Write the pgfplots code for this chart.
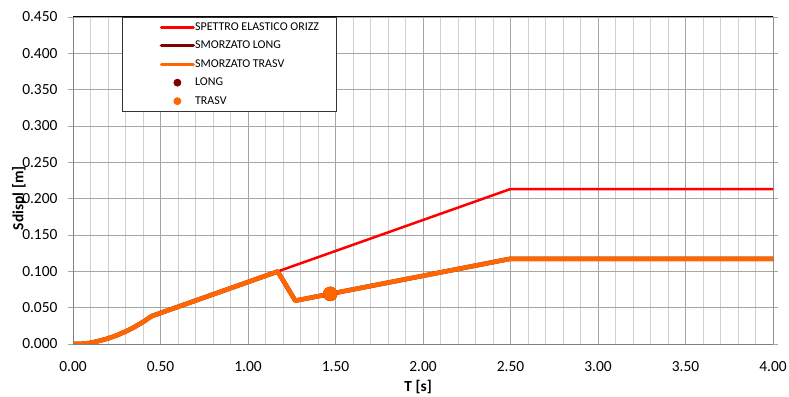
\documentclass[border=0pt]{standalone}
\usepackage{pgfplots}
\pgfplotsset{compat=1.18}
\usepackage{fontspec}
\setmainfont{Carlito}
\definecolor{elred}{HTML}{FF0000}
\definecolor{dkred}{HTML}{7F0000}
\definecolor{orng}{HTML}{FF6600}
\definecolor{gmaj}{HTML}{A6A6A6}
\definecolor{gmin}{HTML}{D0D0D0}
\begin{document}
\begin{tikzpicture}
\begin{axis}[
  scale only axis, width=700bp, height=327bp,
  xmin=0, xmax=4, ymin=0, ymax=0.45,
  xtick={0,0.5,1,1.5,2,2.5,3,3.5,4},
  minor x tick num=4,
  ytick={0,0.05,0.1,0.15,0.2,0.25,0.3,0.35,0.4,0.45},
  grid=both,
  major grid style={draw=gmaj, line width=0.8bp},
  minor grid style={draw=gmin, line width=0.8bp},
  axis line style={draw=none},
  xtick style={draw=none},
  minor x tick style={draw=none},
  ytick style={draw=gmaj, line width=0.8bp},
  ytick align=outside, major tick length=5bp,
  /pgf/number format/assume math mode=true,
  tick label style={font=\fontsize{15.5}{17}\selectfont},
  xticklabel style={yshift=-14bp, /pgf/number format/.cd, fixed, fixed zerofill, precision=2},
  yticklabel style={xshift=-7bp, /pgf/number format/.cd, fixed, fixed zerofill, precision=3},
  scaled ticks=false,
  xlabel={\textbf{T [s]}},
  ylabel={\textbf{Sdispl [m]}},
  every axis x label/.style={at={(rel axis cs:0.493,0)}, yshift=-43bp, anchor=center,
    font=\fontsize{15.5}{17}\selectfont},
  every axis y label/.style={at={(rel axis cs:0,0.446)}, xshift=-54bp, rotate=90, anchor=center,
    font=\fontsize{15.5}{17}\selectfont},
  legend style={at={(rel axis cs:0.07,1)}, anchor=north west, draw=black!80, line width=0.8bp,
    fill=white, inner xsep=0pt, inner ysep=0.5bp, row sep=0pt,
    font=\fontsize{12}{13}\selectfont,
    nodes={minimum height=18.5bp, inner sep=0pt},
    /tikz/every even column/.append style={column sep=3bp}},
  legend cell align=left,
]
\coordinate (sw) at (rel axis cs:0,0);
\coordinate (ne) at (rel axis cs:1,1);

\addplot[elred, line width=2.5bp, line join=round,
  legend image code/.code={\path[draw=none,fill=none] (0bp,-4bp) rectangle (71bp,4bp);
    \draw[elred, line width=3bp, line cap=round] (39bp,0bp) -- (71bp,0bp);}]
  coordinates {(0,0) (0.05,0.0003) (0.10,0.0015) (0.15,0.0043) (0.20,0.0076)
   (0.25,0.0119) (0.30,0.0171) (0.35,0.0232) (0.40,0.0303) (0.45,0.0384)
   (2.50,0.2133) (4.00,0.2133)};
\addlegendentry{\makebox[141bp][l]{SPETTRO ELASTICO ORIZZ}}

\addplot[dkred, line width=4.5bp, line join=round,
  legend image code/.code={\path[draw=none,fill=none] (0bp,-4bp) rectangle (71bp,4bp);
    \draw[dkred, line width=3.5bp, line cap=round] (39bp,0bp) -- (71bp,0bp);}]
  coordinates {(0,0) (0.05,0.0003) (0.10,0.0015) (0.15,0.0043) (0.20,0.0076)
   (0.25,0.0119) (0.30,0.0171) (0.35,0.0232) (0.40,0.0303) (0.45,0.0384)
   (1.17,0.0998) (1.27,0.0596) (2.50,0.1173) (4.00,0.1173)};
\addlegendentry{SMORZATO LONG}

\addplot[orng, line width=4.5bp, line join=round,
  legend image code/.code={\path[draw=none,fill=none] (0bp,-4bp) rectangle (71bp,4bp);
    \draw[orng, line width=3bp, line cap=round] (39bp,0bp) -- (71bp,0bp);}]
  coordinates {(0,0) (0.05,0.0003) (0.10,0.0015) (0.15,0.0043) (0.20,0.0076)
   (0.25,0.0119) (0.30,0.0171) (0.35,0.0232) (0.40,0.0303) (0.45,0.0384)
   (1.17,0.0998) (1.27,0.0596) (2.50,0.1173) (4.00,0.1173)};
\addlegendentry{SMORZATO TRASV}

\addplot[only marks, mark=*, mark size=7bp, mark options={draw=dkred, fill=dkred},
  legend image code/.code={\path[draw=none,fill=none] (0bp,-4bp) rectangle (71bp,4bp);
    \fill[dkred] (55bp,0bp) circle (3.5bp);}]
  coordinates {(1.47,0.0690)};
\addlegendentry{LONG}

\addplot[only marks, mark=*, mark size=7bp, mark options={draw=orng, fill=orng},
  legend image code/.code={\path[draw=none,fill=none] (0bp,-4bp) rectangle (71bp,4bp);
    \fill[orng] (55bp,0bp) circle (3.5bp);}]
  coordinates {(1.47,0.0690)};
\addlegendentry{TRASV}

\draw[black!50, line width=1bp] (rel axis cs:0,1) -- (rel axis cs:0,0) -- (rel axis cs:1,0);
\draw[black, line width=1bp] (rel axis cs:0,1) -- (rel axis cs:1,1) -- (rel axis cs:1,0);
\end{axis}
\pgfresetboundingbox
\path ([shift={(-73bp,-53bp)}]sw) rectangle ([shift={(16bp,17bp)}]ne);
\end{tikzpicture}
\end{document}
